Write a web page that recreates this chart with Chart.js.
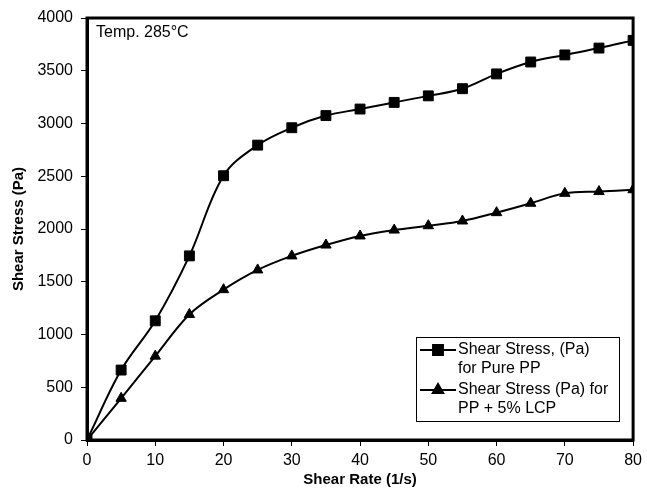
<!DOCTYPE html>
<html lang="en">
<head>
    <meta charset="UTF-8">
    <title>Shear Stress vs Shear Rate</title>
    <script src="https://cdn.jsdelivr.net/npm/chart.js"></script>
    <style>
        html, body { margin: 0; padding: 0; background: #fff; }
        #wrap { width: 647px; height: 490px; }
    </style>
</head>
<body>
    <div id="wrap"><canvas id="shearChart" width="647" height="490"></canvas></div>

    <script>
        // values
        const shearRate = [0, 5, 10, 15, 20, 25, 30, 35, 40, 45, 50, 55, 60, 65, 70, 75, 80];
        const purePP = [0, 663, 1130, 1745, 2505, 2795, 2960, 3075, 3137, 3200, 3262, 3330, 3470, 3583, 3650, 3715, 3788];
        const ppLcp = [0, 395, 795, 1190, 1425, 1612, 1745, 1848, 1934, 1990, 2031, 2076, 2155, 2244, 2338, 2355, 2372];
        const seriesLabels = [
            ["Shear Stress, (Pa)", "for Pure PP"],
            ["Shear Stress (Pa) for", "PP + 5% LCP"]
        ];
        const xTicks = [0, 10, 20, 30, 40, 50, 60, 70, 80];
        const yTicks = [0, 500, 1000, 1500, 2000, 2500, 3000, 3500, 4000];

        const FONT = "'Liberation Sans', Arial, sans-serif";

        function toPoints(ys) {
            return shearRate.map((x, i) => ({ x: x, y: ys[i] }));
        }

        // frame + text note + boxed legend
        const extras = {
            id: "extras",
            afterDatasetsDraw(chart) {
                const ctx = chart.ctx;
                const a = chart.chartArea;
                ctx.save();
                ctx.strokeStyle = "#000";
                ctx.lineWidth = 3;
                ctx.strokeRect(a.left, a.top, a.right - a.left, a.bottom - a.top);

                ctx.fillStyle = "#000";
                ctx.font = "16px " + FONT;
                ctx.textBaseline = "middle";
                ctx.textAlign = "left";
                ctx.fillText("Temp. 285\u00b0C", a.left + 9, a.top + 15);

                // legend box
                const bx = 416, by = 337, bw = 203, bh = 84;
                ctx.lineWidth = 1;
                ctx.fillStyle = "#fff";
                ctx.fillRect(bx, by, bw, bh);
                ctx.strokeRect(bx + 0.5, by + 0.5, bw, bh);
                chart.data.datasets.forEach((ds, i) => {
                    const lines = seriesLabels[i];
                    const y0 = by + 13 + i * 40;
                    ctx.strokeStyle = "#000";
                    ctx.lineWidth = 2;
                    ctx.beginPath();
                    ctx.moveTo(bx + 4, y0);
                    ctx.lineTo(bx + 40, y0);
                    ctx.stroke();
                    ctx.fillStyle = "#000";
                    Chart.helpers.drawPoint(ctx, {
                        pointStyle: ds.pointStyle,
                        radius: ds.pointRadius,
                        borderWidth: 1
                    }, bx + 22, y0);
                    ctx.fillStyle = "#000";
                    ctx.font = "16px " + FONT;
                    lines.forEach((t, j) => ctx.fillText(t, bx + 42, y0 + j * 19));
                });
                ctx.restore();
            }
        };

        new Chart(document.getElementById("shearChart"), {
            type: "scatter",
            data: {
                datasets: [
                    {
                        label: seriesLabels[0].join(" "),
                        data: toPoints(purePP),
                        showLine: true,
                        tension: 0.35,
                        borderColor: "#000",
                        backgroundColor: "#000",
                        borderWidth: 2,
                        pointStyle: "rect",
                        pointRadius: 7,
                        pointBorderWidth: 1
                    },
                    {
                        label: seriesLabels[1].join(" "),
                        data: toPoints(ppLcp),
                        showLine: true,
                        tension: 0.35,
                        borderColor: "#000",
                        backgroundColor: "#000",
                        borderWidth: 2,
                        pointStyle: "triangle",
                        pointRadius: 6,
                        pointBorderWidth: 1
                    }
                ]
            },
            options: {
                responsive: false,
                animation: false,
                layout: { padding: { top: 18, right: 10, left: 0, bottom: 0 } },
                plugins: {
                    legend: { display: false },
                    tooltip: { enabled: false }
                },
                scales: {
                    x: {
                        type: "linear",
                        min: 0,
                        max: 80,
                        afterFit: s => { s.height = 50; },
                        afterBuildTicks: s => { s.ticks = xTicks.map(v => ({ value: v })); },
                        grid: { drawOnChartArea: false, drawTicks: true, tickLength: 6, tickColor: "#000", tickWidth: 1 },
                        border: { display: true, color: "#000", width: 3 },
                        ticks: { color: "#000", padding: 5, maxRotation: 0, font: { family: FONT, size: 16 },
                                 callback: v => String(v) },
                        title: {
                            display: true,
                            text: "Shear Rate (1/s)",
                            color: "#000",
                            padding: { top: 0, bottom: 1 },
                            font: { family: FONT, size: 15, weight: "bold" }
                        }
                    },
                    y: {
                        min: 0,
                        max: 4000,
                        afterFit: s => { s.width = 87; },
                        afterBuildTicks: s => { s.ticks = yTicks.map(v => ({ value: v })); },
                        grid: { drawOnChartArea: false, drawTicks: true, tickLength: 6, tickColor: "#000", tickWidth: 1 },
                        border: { display: true, color: "#000", width: 3 },
                        ticks: { color: "#000", padding: 8, font: { family: FONT, size: 16 },
                                 callback: v => String(v) },
                        title: {
                            display: true,
                            text: "Shear Stress (Pa)",
                            color: "#000",
                            padding: { top: 10, bottom: 4 },
                            font: { family: FONT, size: 15, weight: "bold" }
                        }
                    }
                }
            },
            plugins: [extras]
        });
    </script>
</body>
</html>
